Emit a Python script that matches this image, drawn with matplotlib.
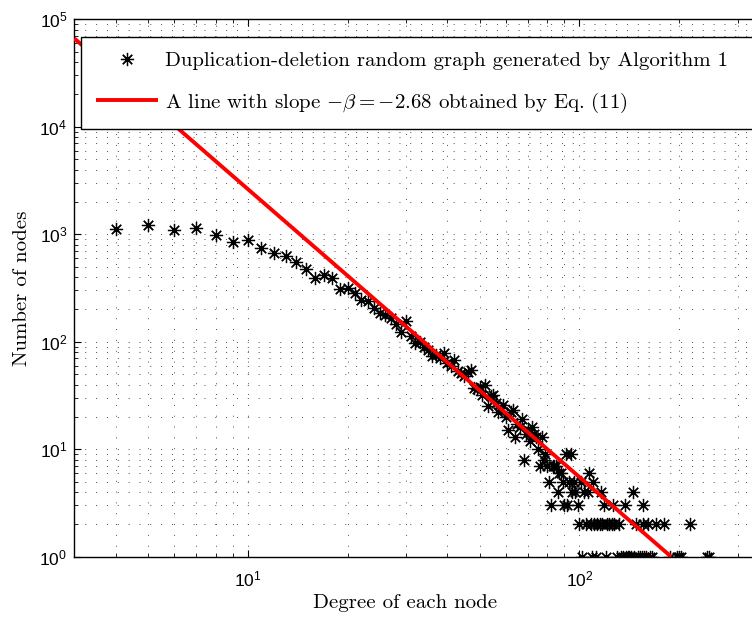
import matplotlib
matplotlib.use("Agg")
import matplotlib.pyplot as plt
from matplotlib.ticker import FixedLocator, LogLocator, NullFormatter
import numpy as np

# ---------------- data ----------------
degree = [4, 5, 6, 7, 8, 9, 10, 11, 12, 13, 14, 15, 16, 17, 18, 19, 20, 21, 22, 23,
          24, 25, 26, 27, 28, 29, 30, 31, 32, 33, 34, 35, 36, 37, 38, 39, 40, 41, 42, 43,
          44, 45, 46, 47, 48, 49, 50, 51, 52, 53, 54, 55, 56, 57, 58, 59, 60, 61, 62, 63,
          64, 65, 66, 67, 68, 69, 70, 71, 72, 73, 74, 75, 76, 77, 78, 79, 80, 81, 82, 83,
          84, 85, 86, 87, 88, 89, 90, 91, 92, 93, 94, 95, 96, 97, 99, 100, 101, 102, 103, 105,
          106, 107, 108, 109, 110, 111, 112, 113, 115, 116, 117, 119, 120, 121, 123, 125, 126, 127, 130, 132,
          133, 135, 137, 138, 140, 141, 143, 145, 146, 148, 150, 152, 154, 155, 156, 157, 159, 161, 163, 165,
          170, 180, 187, 197, 200, 203, 215, 242, 246]
nodes = [1117, 1225, 1085, 1142, 975, 851, 883, 743, 668, 621, 551, 474, 391, 420, 391, 309, 315, 283, 242, 237,
         205, 187, 178, 165, 147, 122, 157, 112, 97, 100, 89, 84, 74, 76, 70, 79, 64, 60, 67, 53,
         51, 48, 52, 55, 37, 36, 38, 32, 40, 25, 31, 32, 27, 22, 24, 26, 20, 15, 22, 23,
         13, 17, 16, 19, 8, 14, 15, 12, 16, 14, 13, 10, 7, 13, 8, 9, 7, 5, 3, 7,
         7, 7, 4, 6, 6, 5, 3, 9, 3, 5, 9, 4, 5, 4, 3, 2, 5, 1, 4, 2,
         4, 6, 2, 1, 5, 2, 1, 2, 2, 4, 2, 3, 1, 2, 2, 2, 3, 2, 1, 2,
         1, 1, 3, 1, 1, 1, 1, 4, 1, 2, 1, 1, 1, 3, 2, 1, 1, 2, 1, 1,
         2, 2, 1, 1, 1, 1, 2, 1, 1]

beta = 2.68
fit_x = [3, 189]          # degree range of the fitted line
fit_c = 10 ** 6.101       # intercept of the fitted power law

xticks = [10, 100]
yticks = [1, 10, 100, 1000, 10000, 100000]
xticklabels = [r"$\mathregular{10^{1}}$", r"$\mathregular{10^{2}}$"]
yticklabels = [r"$\mathregular{10^{%d}}$" % k for k in range(6)]

label_points = "Duplication-deletion random graph generated by Algorithm 1"
label_line = r"A line with slope $-\beta = -2.68$ obtained by Eq. (11)"

# ---------------- style ----------------
plt.rcParams["font.family"] = ["cmr10", "DejaVu Serif"]
plt.rcParams["mathtext.fontset"] = "cm"
plt.rcParams["axes.formatter.use_mathtext"] = True
plt.rcParams["axes.unicode_minus"] = False

fig = plt.figure(figsize=(7.52, 6.22), dpi=100)
W, Hf = 752.0, 622.0
left_px, bottom_px, top_px = 74.3, 556.7, 19.3
xlo, xhi = 3, 400
decade_px = 331.7
width_px = (np.log10(xhi) - np.log10(xlo)) * decade_px
ax = fig.add_axes([left_px / W, (Hf - bottom_px) / Hf, width_px / W, (bottom_px - top_px) / Hf])

ax.set_xscale("log")
ax.set_yscale("log")
ax.set_xlim(xlo, xhi)
ax.set_ylim(1, 1e5)

ax.plot(degree, nodes, linestyle="none", marker=(8, 2, 0), markersize=9.5,
        markeredgewidth=0.9, color="black", label=label_points, zorder=3)
fx = np.array(fit_x, dtype=float)
ax.plot(fx, fit_c * fx ** (-beta), color=(1, 0, 0), linewidth=2.8,
        label=label_line, zorder=4, solid_capstyle="butt")

ax.xaxis.set_major_locator(FixedLocator(xticks))
ax.yaxis.set_major_locator(FixedLocator(yticks))
ax.set_xticklabels(xticklabels, fontfamily="Liberation Sans", fontsize=12.5)
ax.set_yticklabels(yticklabels, fontfamily="Liberation Sans", fontsize=12.5)
ax.xaxis.set_minor_locator(LogLocator(base=10, subs=np.arange(2, 10), numticks=30))
ax.yaxis.set_minor_locator(LogLocator(base=10, subs=np.arange(2, 10), numticks=30))
ax.xaxis.set_minor_formatter(NullFormatter())
ax.yaxis.set_minor_formatter(NullFormatter())

ax.tick_params(which="both", direction="in", top=True, right=True, color="black")
ax.tick_params(which="major", length=5, width=0.8)
ax.tick_params(which="minor", length=3, width=0.6)
ax.tick_params(axis="x", which="major", pad=9)
ax.tick_params(axis="y", which="major", pad=5)

ax.grid(True, which="both", linestyle=(0, (1, 11)), linewidth=0.65, color="0.2")
for s in ax.spines.values():
    s.set_linewidth(1.0)
    s.set_color("black")

ax.set_xlabel("Degree of each node", fontsize=15)
ax.set_ylabel("Number of nodes", fontsize=15)
ax.xaxis.set_label_coords((405 - left_px) / width_px, -(603 - bottom_px) / (bottom_px - top_px),
                          transform=ax.transAxes)
ax.xaxis.label.set_va("center")
ax.yaxis.set_label_coords(-(left_px - 22) / width_px, 0.5, transform=ax.transAxes)
ax.yaxis.label.set_va("center")

# legend box: left at x=81 px, top at y=36.7 px, running past the right edge
leg_top = 1 - 36.7 / Hf
leg_h = (128 - 36.7) / Hf
leg = ax.legend(loc="upper left",
                bbox_to_anchor=(81 / W, leg_top - leg_h, (800 - 81) / W, leg_h),
                bbox_transform=fig.transFigure, borderaxespad=0, fontsize=15,
                mode="expand", fancybox=False, framealpha=1, edgecolor="black",
                handlelength=3.0, handletextpad=0.35, borderpad=0.7,
                labelspacing=1.0, markerscale=1.0)
leg.get_frame().set_linewidth(1.0)

fig.savefig("out.png", dpi=100)
